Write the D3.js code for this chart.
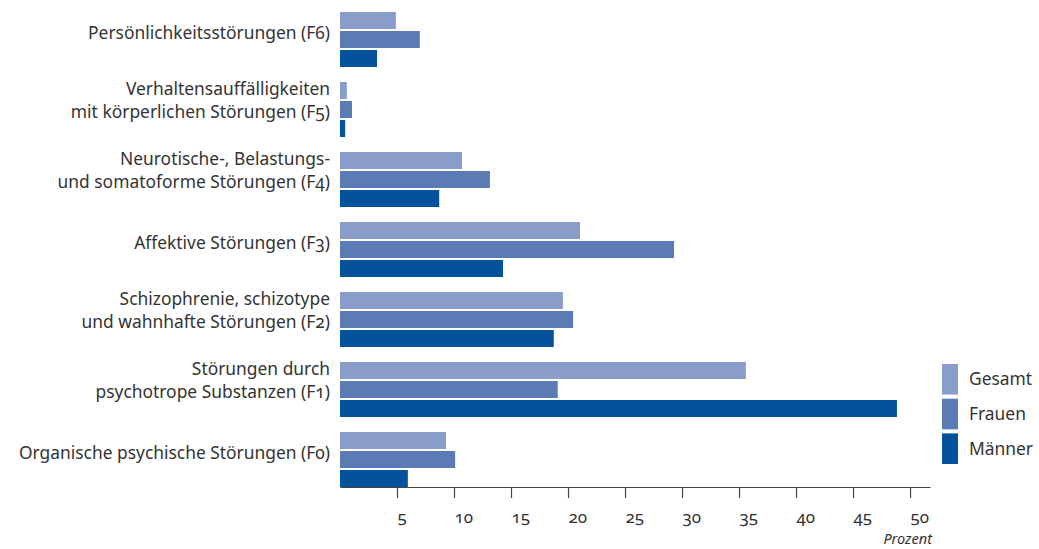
<!DOCTYPE html>
<html lang="de">
	<head>
		<meta charset="UTF-8" />
		<title>Diagnosen</title>
		<style>
			body { margin: 0; background: #fff; }
			svg text { font-family: 'Noto Sans', sans-serif; fill: #333; font-feature-settings: 'onum' 1; }
		</style>
	</head>
	<body>
		<svg id="svg" width="1039" height="549"></svg>
		<script src="https://d3js.org/d3.v7.min.js"></script>
		<script>
			// categories from top to bottom, each label split into lines
			const categories = ['F6', 'F5', 'F4', 'F3', 'F2', 'F1', 'F0'];
			const labels = [
				['Persönlichkeitsstörungen (F6)'],
				['Verhaltensauffälligkeiten', 'mit körperlichen Störungen (F5)'],
				['Neurotische-, Belastungs-', 'und somatoforme Störungen (F4)'],
				['Affektive Störungen (F3)'],
				['Schizophrenie, schizotype', 'und wahnhafte Störungen (F2)'],
				['Störungen durch', 'psychotrope Substanzen (F1)'],
				['Organische psychische Störungen (F0)'],
			];
			const series = ['Gesamt', 'Frauen', 'Männer'];
			const gesamt = [4.9, 0.6, 10.7, 21.05, 19.55, 35.6, 9.3];
			const frauen = [7.0, 1.05, 13.15, 29.3, 20.45, 19.1, 10.1];
			const maenner = [3.25, 0.45, 8.7, 14.3, 18.75, 48.85, 5.95];
			const xTicks = [5, 10, 15, 20, 25, 30, 35, 40, 45, 50];
			const colors = ['#8a9cc9', '#5b7bb5', '#03529b'];

			const values = [gesamt, frauen, maenner];
			const data = categories.map((c, i) => ({
				cat: c,
				label: labels[i],
				vals: series.map((s, j) => ({ key: s, value: values[j][i] })),
			}));

			const svg = d3.select('#svg');

			const x = d3.scaleLinear().domain([0, 51.75]).range([340, 930]);
			const y = d3.scaleBand().domain(categories).range([12, 487]).paddingInner(15 / 70);
			const ySub = d3.scaleBand().domain(series).range([0, y.bandwidth()]).paddingInner(2 / 19);
			const color = d3.scaleOrdinal().domain(series).range(colors);

			// bars
			const groups = svg
				.selectAll('g.grp')
				.data(data)
				.enter()
				.append('g')
				.attr('class', 'grp')
				.attr('transform', (d) => `translate(0,${y(d.cat)})`);

			groups
				.selectAll('rect')
				.data((d) => d.vals)
				.enter()
				.append('rect')
				.attr('x', x(0))
				.attr('y', (d) => ySub(d.key))
				.attr('width', (d) => x(d.value) - x(0))
				.attr('height', ySub.bandwidth())
				.attr('fill', (d) => color(d.key));

			// category labels
			groups
				.append('text')
				.attr('text-anchor', 'end')
				.attr('font-size', 17.4)
				.selectAll('tspan')
				.data((d) => d.label.map((t, i) => ({ t, i, n: d.label.length })))
				.enter()
				.append('tspan')
				.attr('x', 330)
				.attr('y', (d) => {
					const c = y.bandwidth() / 2;
					if (d.n === 1) return c - 7;
					return d.i === 0 ? c - 20.5 : c + 2.5;
				})
				.attr('dy', '0.35em')
				.text((d) => d.t);

			// x axis
			const axis = d3
				.axisBottom(x)
				.tickValues(xTicks)
				.tickSize(11)
				.tickSizeOuter(0)
				.tickFormat(d3.format('d'));

			const gx = svg.append('g').attr('transform', 'translate(0,487)').call(axis);
			gx.select('.domain').attr('stroke', '#444').attr('stroke-width', 1.2);
			gx.selectAll('.tick line').attr('stroke', '#444').attr('stroke-width', 1.2);
			gx.selectAll('.tick text')
				.attr('text-anchor', 'start')
				.attr('y', 36)
				.attr('dy', 0)
				.attr('font-size', 17)
				.attr('font-family', "'Noto Sans', sans-serif")
				.attr('fill', '#333');

			svg.append('text')
				.attr('x', 932)
				.attr('y', 544)
				.attr('text-anchor', 'end')
				.attr('font-size', 14.5)
				.attr('font-style', 'italic')
				.text('Prozent');

			// legend
			const yLeg = d3.scaleBand().domain(series).range([364, 464]).paddingInner(4 / 34);
			const leg = svg
				.selectAll('g.leg')
				.data(series)
				.enter()
				.append('g')
				.attr('class', 'leg')
				.attr('transform', (d) => `translate(942,${yLeg(d)})`);

			leg.append('rect')
				.attr('width', 16)
				.attr('height', yLeg.bandwidth())
				.attr('fill', (d) => color(d));

			leg.append('text')
				.attr('x', 27)
				.attr('y', yLeg.bandwidth() / 2)
				.attr('dy', '0.35em')
				.attr('font-size', 17.4)
				.text((d) => d);
		</script>
	</body>
</html>
